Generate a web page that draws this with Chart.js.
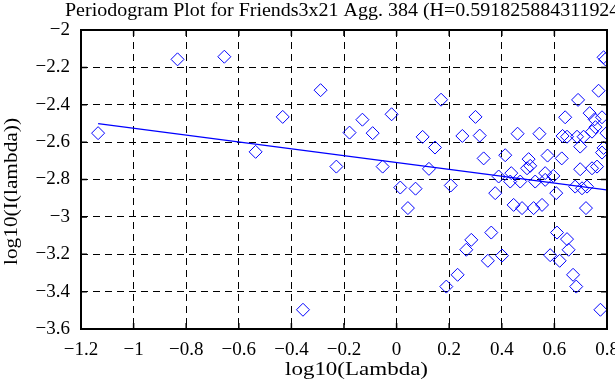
<!DOCTYPE html>
<html><head><meta charset="utf-8">
<script src="https://cdn.jsdelivr.net/npm/chart.js@4/dist/chart.umd.min.js"></script>
<style>html,body{margin:0;padding:0;background:#fff;overflow:hidden}canvas{display:block}</style>
</head><body>
<canvas id="c" width="615" height="385"></canvas>
<script>
const TITLE = "Periodogram Plot for Friends3x21 Agg. 384 (H=0.591825884311924)";
const X_LABEL = "log10(Lambda)";
const Y_LABEL = "log10(I(lambda))";

const logLambda = [-1.135,-0.833,-0.655,-0.536,-0.433,-0.356,-0.289,-0.229,-0.179,-0.130,
  -0.091,-0.053,-0.019,0.014,0.043,0.072,0.099,0.123,0.146,0.169,
  0.189,0.206,0.232,0.250,0.265,0.284,0.300,0.316,0.331,0.347,
  0.360,0.375,0.388,0.401,0.413,0.436,0.432,0.445,0.460,0.470,
  0.477,0.496,0.508,0.502,0.521,0.527,0.543,0.553,0.565,0.565,
  0.574,0.584,0.596,0.607,0.610,0.620,0.628,0.631,0.641,0.648,
  0.648,0.654,0.671,0.679,0.683,0.686,0.690,0.698,0.698,0.705,
  0.711,0.720,0.724,0.734,0.743,0.743,0.753,0.756,0.762,0.768,
  0.775,0.781,0.781,0.787,0.794,0.787,0.798];
const logI = [-2.552,-2.157,-2.143,-2.652,-2.465,-3.497,-2.322,-2.731,-2.549,-2.480,
  -2.552,-2.731,-2.451,-2.843,-2.953,-2.849,-2.572,-2.743,-2.629,-2.373,
  -3.373,-2.832,-3.310,-2.567,-3.176,-3.123,-2.465,-2.565,-2.687,-3.235,
  -3.084,-2.873,-2.784,-3.207,-2.670,-2.766,-2.811,-2.936,-2.555,-2.811,
  -2.953,-2.740,-2.727,-2.691,-2.953,-2.811,-2.555,-2.936,-2.766,-2.802,
  -2.672,-3.205,-2.781,-2.873,-3.084,-3.235,-2.687,-2.567,-2.467,-2.571,
  -3.119,-3.176,-3.310,-2.838,-3.373,-2.571,-2.374,-2.624,-2.745,-2.847,
  -2.571,-2.953,-2.838,-2.445,-2.544,-2.740,-2.478,-2.520,-2.731,-2.325,
  -3.497,-2.467,-2.656,-2.146,-2.157,-2.631,-2.552];

const xTickValues = [-1.2,-1,-0.8,-0.6,-0.4,-0.2,0,0.2,0.4,0.6,0.8];
const xTickLabels = ["\u22121.2","\u22121","\u22120.8","\u22120.6","\u22120.4","\u22120.2","0","0.2","0.4","0.6","0.8"];
const yTickValues = [-3.6,-3.4,-3.2,-3,-2.8,-2.6,-2.4,-2.2,-2];
const yTickLabels = ["\u22123.6","\u22123.4","\u22123.2","\u22123","\u22122.8","\u22122.6","\u22122.4","\u22122.2","\u22122"];

const hurst = 0.591825884311924;
const fitIntercept = -2.709;

const fitSlope = 1 - 2 * hurst;
const xMin = Math.min(...logLambda), xMax = Math.max(...logLambda);
const points = logLambda.map((v, i) => ({x: v, y: logI[i]}));
const fitLine = [xMin, xMax].map(v => ({x: v, y: fitIntercept + fitSlope * v}));

const FONT = "'Liberation Serif','Times New Roman',serif";

// draw text starting at (x,y) stretched horizontally to a target width
function stretchedText(ctx, text, size, x, y, width, rotate) {
  ctx.save();
  ctx.font = size + "px " + FONT;
  ctx.fillStyle = '#000';
  ctx.textAlign = 'left';
  ctx.textBaseline = 'alphabetic';
  const w = ctx.measureText(text).width;
  ctx.translate(x, y);
  if (rotate) ctx.rotate(-Math.PI / 2);
  ctx.scale(width / w, 1);
  ctx.fillText(text, 0, 0);
  ctx.restore();
}

const framePlugin = {
  id: 'frame',
  afterDraw(chart) {
    const {ctx, chartArea: a, scales: {x, y}} = chart;
    ctx.save();
    ctx.strokeStyle = '#000';
    ctx.lineWidth = 1.5;
    ctx.beginPath();
    xTickValues.forEach(v => {
      const px = x.getPixelForValue(v);
      ctx.moveTo(px, a.bottom); ctx.lineTo(px, a.bottom - 6);
      ctx.moveTo(px, a.top); ctx.lineTo(px, a.top + 6);
    });
    yTickValues.forEach(v => {
      const py = y.getPixelForValue(v);
      ctx.moveTo(a.left, py); ctx.lineTo(a.left + 6, py);
      ctx.moveTo(a.right, py); ctx.lineTo(a.right - 6, py);
    });
    ctx.stroke();
    ctx.lineWidth = 2;
    ctx.strokeRect(a.left, a.top, a.right - a.left, a.bottom - a.top);
    ctx.restore();
    stretchedText(ctx, TITLE, 18, 65, 16, 561, false);
    stretchedText(ctx, X_LABEL, 19, 285, 375, 143, false);
    stretchedText(ctx, Y_LABEL, 19.5, 17, 265, 147, true);
  }
};

new Chart(document.getElementById('c'), {
  type: 'scatter',
  data: {
    datasets: [
      {
        data: fitLine, showLine: true, borderColor: '#0000ff', borderWidth: 1.3,
        pointRadius: 0, fill: false
      },
      {
        data: points, pointStyle: 'rectRot', pointRadius: 6.5, pointBorderWidth: 1,
        borderColor: '#0000ff', backgroundColor: 'rgba(0,0,0,0)', showLine: false
      }
    ]
  },
  options: {
    responsive: false,
    animation: false,
    layout: {padding: {left: 0, right: 8, top: 30, bottom: 0}},
    plugins: {
      legend: {display: false},
      tooltip: {enabled: false},
      title: {display: false}
    },
    scales: {
      x: {
        type: 'linear', min: -1.2, max: 0.8,
        afterBuildTicks: s => { s.ticks = xTickValues.map(v => ({value: v})); },
        afterFit: s => { s.height = 56; s.paddingLeft = 0; s.paddingRight = 0; },
        ticks: {
          color: '#000', padding: 10, maxRotation: 0, autoSkip: false,
          font: {family: FONT, size: 19},
          callback: v => xTickLabels[xTickValues.indexOf(v)]
        },
        grid: {color: '#000', lineWidth: 1, drawTicks: false},
        border: {display: false, dash: [7, 5]}
      },
      y: {
        type: 'linear', min: -3.6, max: -2,
        afterBuildTicks: s => { s.ticks = yTickValues.map(v => ({value: v})); },
        afterFit: s => { s.width = 81; s.paddingTop = 0; s.paddingBottom = 0; },
        ticks: {
          color: '#000', padding: 11, autoSkip: false,
          font: {family: FONT, size: 19},
          callback: v => yTickLabels[yTickValues.indexOf(v)]
        },
        grid: {color: '#000', lineWidth: 1, drawTicks: false},
        border: {display: false, dash: [7, 5]}
      }
    }
  },
  plugins: [framePlugin]
});
</script>
</body></html>
